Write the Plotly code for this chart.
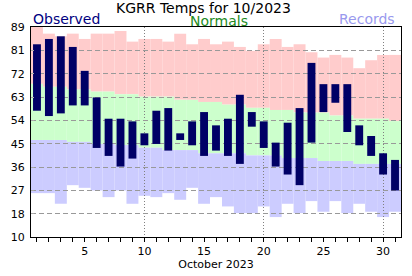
import numpy as np
import plotly.graph_objects as go

# ---------------- data ----------------
days = list(range(1, 32))
obs_high = [82.5, 84.5, 85.5, 81.5, 72.5, 62.5, 54.5, 54.5, 53.5, 49, 57.5, 58.5, 49, 53.5, 57,
            52, 54.5, 63.5, 57, 53.5, 45.5, 53, 58.5, 75.5, 67.5, 67.5, 67.5, 52, 48, 41.5, 39]
obs_low = [57.5, 55.5, 56.5, 59.5, 59.5, 43.5, 40.5, 36.5, 39.5, 44.5, 45, 42.5, 46.5, 44.5, 40.5,
           42.5, 40.5, 37.5, 51.5, 43.5, 36.5, 33.5, 29.5, 45.5, 57, 60.5, 49.5, 44.5, 40.5, 33.5, 27.5]
normal_high = [67.6, 66.5, 66.5, 65.5, 65.5, 64.7, 64.7, 63.7, 63.7, 62.8, 62.8, 62.8, 61.6, 61.6, 60.8,
               60.8, 59.8, 59.8, 58.6, 58.6, 57.8, 57.8, 56.9, 56.8, 56.8, 55.7, 55.7, 54.5, 54.5, 54.5, 53.6]
normal_low = [46.5, 46.5, 46.5, 45.8, 45.8, 45.0, 45.0, 44.6, 44.6, 43.6, 43.6, 42.7, 42.7, 42.7, 41.5,
              41.5, 41.5, 41.5, 40.7, 40.7, 40.7, 39.7, 39.7, 39.7, 38.6, 38.6, 38.6, 37.5, 37.5, 37.5, 37.5]
record_high = [89, 86.5, 85.5, 86.5, 84.5, 86.5, 86.5, 87.5, 83.5, 84.5, 84.5, 83.5, 86.5, 82.5, 84.5,
               82.5, 83.5, 81.5, 80, 82.5, 84.5, 81.5, 82.5, 79.5, 77.5, 78.5, 77.5, 73.5, 76.5, 78.5, 78.5]
record_low = [26.5, 26.5, 22.5, 29.5, 28.5, 27.5, 25, 27.5, 22.5, 25.5, 25, 26.5, 24, 28.5, 22.5,
              25, 21.5, 19, 19, 21.5, 17.5, 22.5, 19, 23.5, 19.5, 23.5, 19, 22.5, 19.5, 17.5, 19.5]

y_tick_labels = ["10", "18", "27", "36", "45", "54", "63", "72", "81", "89"]
x_tick_vals = [5, 10, 15, 20, 25, 30]
x_grid_vals = [10, 20, 30]
Y_MIN, Y_MAX = 10, 89
X_RANGE = [0.5, 31.5]

FONT = "DejaVu Sans"

def diff(a, b):
    return [x - y for x, y in zip(a, b)]

fig = go.Figure()

# background bands (subplot 1)
fig.add_trace(go.Bar(x=days, y=diff(record_high, normal_high), base=normal_high, width=1,
                     marker=dict(color="#ffcccc", line=dict(width=0)), xaxis="x", yaxis="y"))
fig.add_trace(go.Bar(x=days, y=diff(normal_high, normal_low), base=normal_low, width=1,
                     marker=dict(color="#ccffcc", line=dict(width=0)), xaxis="x", yaxis="y"))
fig.add_trace(go.Bar(x=days, y=diff(normal_low, record_low), base=record_low, width=1,
                     marker=dict(color="#ccccff", line=dict(width=0)), xaxis="x", yaxis="y"))

# observed (subplot 2, drawn above grid)
fig.add_trace(go.Bar(x=days, y=diff(obs_high, obs_low), base=obs_low, width=0.66,
                     marker=dict(color="#000066", line=dict(width=0)), xaxis="x2", yaxis="y2"))

yticks = list(np.linspace(Y_MIN, Y_MAX, len(y_tick_labels)))

fig.update_layout(
    width=412, height=276,
    margin=dict(l=31, r=10, t=27, b=29),
    paper_bgcolor="white", plot_bgcolor="rgba(0,0,0,0)",
    barmode="overlay", showlegend=False,
    font=dict(family=FONT, size=11, color="black"),
    xaxis=dict(domain=[0, 1], anchor="y", range=X_RANGE, tickvals=x_tick_vals,
               ticks="outside", ticklen=4, tickcolor="black", showgrid=False, zeroline=False,
               showline=False, tickfont=dict(size=11),
               minor=dict(dtick=1, tick0=0, ticks="outside", ticklen=4, tickcolor="black", showgrid=False),
               title=dict(text="October 2023", font=dict(size=11), standoff=0)),
    yaxis=dict(domain=[0, 1], anchor="x", range=[Y_MIN, Y_MAX], visible=False, showgrid=False),
    xaxis2=dict(domain=[0, 1], anchor="y2", range=X_RANGE, tickvals=x_grid_vals, showticklabels=False,
                ticks="", showgrid=True, gridcolor="#808080", gridwidth=1, griddash="1px,2px",
                zeroline=False, showline=True, linecolor="black", linewidth=1, mirror=True,
                layer="above traces"),
    yaxis2=dict(domain=[0, 1], anchor="x2", range=[Y_MIN, Y_MAX], tickvals=yticks,
                ticktext=y_tick_labels, ticks="inside", ticklen=3, tickcolor="#aaaaaa",
                showgrid=True, gridcolor="#999999", gridwidth=1, griddash="5px,3px",
                zeroline=False, showline=True, linecolor="black", linewidth=1, mirror=True,
                layer="above traces", tickfont=dict(size=11), ticklabelstandoff=3),
)

fig.add_annotation(text="KGRR Temps for 10/2023", xref="paper", yref="paper", x=0.466, y=1,
                   xanchor="center", yanchor="bottom", yshift=10, showarrow=False, borderpad=0,
                   font=dict(family=FONT, size=14, color="black"))
fig.add_annotation(text="Observed", xref="paper", yref="paper", x=0, y=1,
                   xanchor="left", yanchor="bottom", yshift=-2, showarrow=False,
                   font=dict(family=FONT, size=14, color="#000080"))
fig.add_annotation(text="Normals", xref="paper", yref="paper", x=0.508, y=1,
                   xanchor="center", yanchor="bottom", yshift=-3, showarrow=False, borderpad=0,
                   font=dict(family=FONT, size=14, color="#228B22"))
fig.add_annotation(text="Records", xref="paper", yref="paper", x=0.989, y=1,
                   xanchor="right", yanchor="bottom", yshift=-2, showarrow=False,
                   font=dict(family=FONT, size=14, color="#9999ee"))

fig.write_html("out.html")
